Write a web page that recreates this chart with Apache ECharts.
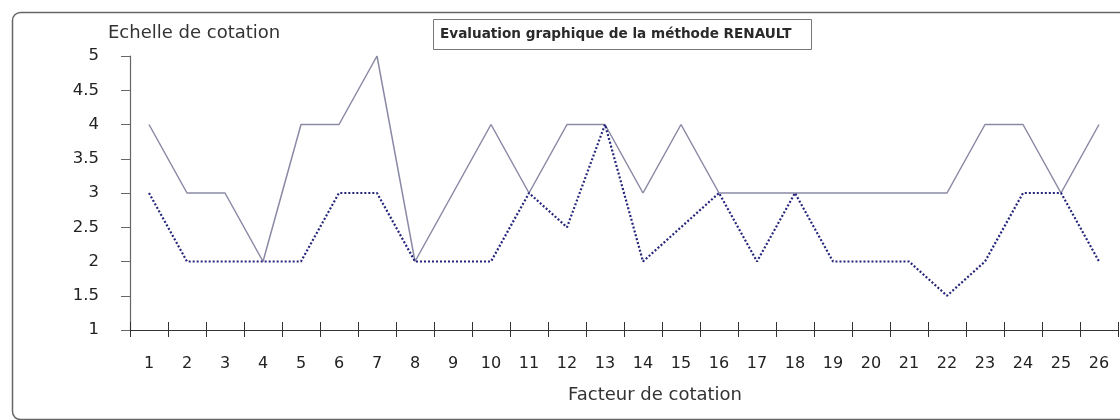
<!DOCTYPE html>
<html>
<head>
<meta charset="utf-8">
<script src="https://cdn.jsdelivr.net/npm/echarts@6/dist/echarts.min.js"></script>
<style>html,body{margin:0;padding:0;background:#fff}#c{width:1120px;height:420px}</style>
</head>
<body>
<div id="c"></div>
<script>
const categories = ['1','2','3','4','5','6','7','8','9','10','11','12','13','14','15','16','17','18','19','20','21','22','23','24','25','26'];
const serieContinue = [4,3,3,2,4,4,5,2,3,4,3,4,4,3,4,3,3,3,3,3,3,3,4,4,3,4];
const seriePointillee = [3,2,2,2,2,3,3,2,2,2,3,2.5,4,2,2.5,3,2,3,2,2,2,1.5,2,3,3,2];
const titre = 'Evaluation graphique de la méthode RENAULT';
const titreY = 'Echelle de cotation';
const titreX = 'Facteur de cotation';

const chart = echarts.init(document.getElementById('c'), null, {renderer: 'canvas'});
const font = 'DejaVu Sans';
chart.setOption({
  animation: false,
  backgroundColor: '#fff',
  title: {
    text: titre,
    left: 433, top: 19,
    padding: [8, 20, 8, 7],
    borderColor: '#777', borderWidth: 1,
    textStyle: {fontFamily: font, fontSize: 13.6, fontWeight: 'bold', color: '#2a2a2a', lineHeight: 15}
  },
  graphic: [
    {type: 'rect', left: 10, top: 10, shape: {width: 1116, height: 407, r: 8}, style: {fill: 'none', stroke: '#666', lineWidth: 1.5}, z: -1},
    {type: 'text', left: 108, top: 24, style: {text: titreY, font: '18px "DejaVu Sans"', fill: '#333'}},
    {type: 'text', left: 568, top: 386, style: {text: titreX, font: '18px "DejaVu Sans"', fill: '#333'}}
  ],
  grid: {left: 130, right: 2, top: 56, bottom: 90, containLabel: false},
  xAxis: [{
    type: 'category', data: categories, boundaryGap: true,
    axisLine: {lineStyle: {color: '#333', width: 1.2}},
    axisTick: {show: true, length: 7, lineStyle: {color: '#333'}},
    axisLabel: {margin: 26, fontFamily: font, fontSize: 16, color: '#222'}
  }, {
    type: 'category', data: categories, boundaryGap: true, position: 'bottom',
    axisLine: {show: true, lineStyle: {color: '#333', width: 0, opacity: 0}},
    axisTick: {show: true, inside: true, length: 8, lineStyle: {color: '#333', width: 1}},
    axisLabel: {show: false}
  }],
  yAxis: {
    type: 'value', min: 1, max: 5, interval: 0.5,
    splitLine: {show: false},
    axisLine: {show: true, lineStyle: {color: '#666', width: 1.2}},
    axisTick: {show: true, length: 9, lineStyle: {color: '#666'}},
    axisLabel: {margin: 31, fontFamily: font, fontSize: 16.5, color: '#222'}
  },
  series: [{
    type: 'line', data: serieContinue, xAxisIndex: 0,
    symbol: 'none', lineStyle: {color: '#8a8aa6', width: 1.5, type: 'solid'}
  }, {
    type: 'line', data: seriePointillee, xAxisIndex: 0,
    symbol: 'none', lineStyle: {color: '#25257a', width: 2.2, type: [2, 2]}
  }]
});
</script>
</body>
</html>
